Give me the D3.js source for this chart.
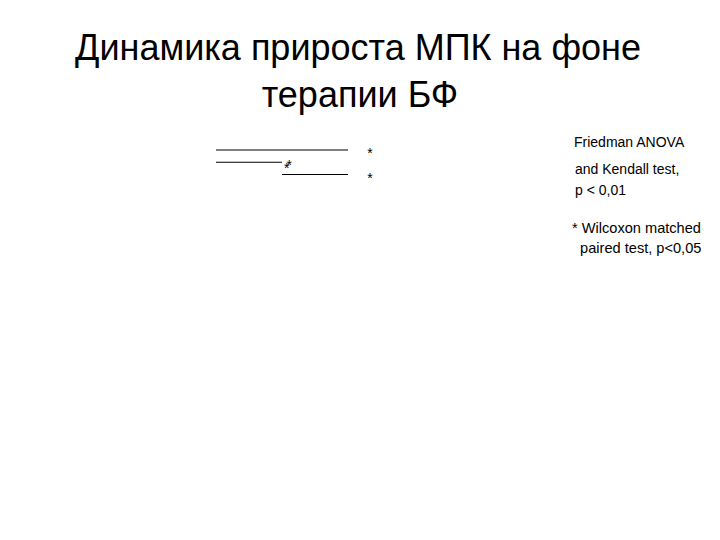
<!DOCTYPE html>
<html><head><meta charset="utf-8">
<script src="https://cdn.jsdelivr.net/npm/d3@7"></script>
<style>html,body{margin:0;padding:0;background:#fff}svg{display:block}</style>
</head><body>
<script>
const titleLines = ["Динамика прироста МПК на фоне", "терапии БФ"];
const groups = ["T0", "T1", "T2"];
const bracketFrom = [0, 0, 1];
const bracketTo = [2, 1, 2];
const bracketLevel = [0, 1, 2];
const starLabels = ["*", "*"];
const starLevels = [0, 2];
const midStar = "**";
const noteLines = ["Friedman ANOVA", "and Kendall test,", "p < 0,01"];
const footLines = ["* Wilcoxon matched", "  paired test, p<0,05"];

const W = 720, H = 540;
const svg = d3.select("body").append("svg").attr("width", W).attr("height", H);
const font = "'Liberation Sans', Arial, sans-serif";

svg.selectAll("text.title").data(titleLines).join("text")
  .attr("class", "title")
  .attr("x", (d, i) => i === 0 ? 358 : 360)
  .attr("y", (d, i) => 60 + i * 47)
  .attr("text-anchor", "middle")
  .attr("font-family", font).attr("font-size", 36).attr("fill", "#000")
  .text(d => d);

const x = d3.scalePoint().domain(groups).range([216, 348]);
const y = d3.scaleLinear().domain([0, 2]).range([150, 174.5]);

const brackets = bracketFrom.map((f, i) => ({ f: groups[f], t: groups[bracketTo[i]], lv: bracketLevel[i] }));
svg.selectAll("line.br").data(brackets).join("line")
  .attr("class", "br")
  .attr("x1", d => x(d.f)).attr("x2", d => x(d.t))
  .attr("y1", d => y(d.lv)).attr("y2", d => y(d.lv))
  .attr("stroke", "#000").attr("stroke-width", 1.2);

svg.selectAll("text.star").data(starLabels).join("text")
  .attr("class", "star")
  .attr("x", x(groups[2]) + 22)
  .attr("y", (d, i) => y(starLevels[i]) + 8)
  .attr("text-anchor", "middle")
  .attr("font-family", font).attr("font-size", 14).attr("fill", "#000")
  .text(d => d);

// overlapping double asterisk at the middle bracket end (single text element, per-glyph offsets)
svg.append("text")
  .attr("x", x(groups[1]) + 2)
  .attr("y", y(1) + 11)
  .attr("dy", "0 -3")
  .attr("letter-spacing", -3)
  .attr("font-family", font).attr("font-size", 14).attr("fill", "#000")
  .text(midStar);

svg.selectAll("text.note").data(noteLines).join("text")
  .attr("class", "note")
  .attr("x", (d, i) => i === 0 ? 574 : 575)
  .attr("y", (d, i) => [147, 174, 195][i])
  .attr("font-family", font).attr("font-size", 14).attr("fill", "#000")
  .text(d => d);

svg.selectAll("text.foot").data(footLines).join("text")
  .attr("class", "foot")
  .attr("x", 572)
  .attr("y", (d, i) => 233 + i * 20)
  .attr("xml:space", "preserve").style("white-space", "pre")
  .attr("font-family", font).attr("font-size", 14.6).attr("fill", "#000")
  .text(d => d);
</script>
</body></html>
